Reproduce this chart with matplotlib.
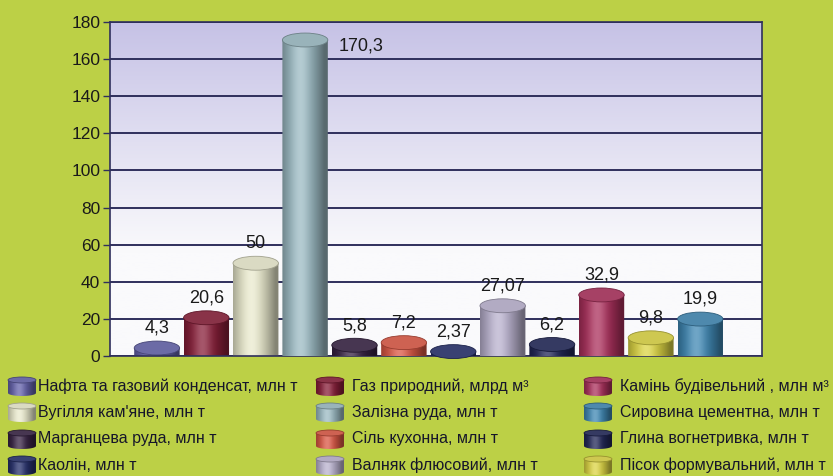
import numpy as np
import matplotlib.pyplot as plt
from matplotlib.patches import Ellipse, PathPatch
from matplotlib.path import Path
from matplotlib.colors import to_rgb

# Видобуток корисних копалин
names = [
    "Нафта та газовий конденсат, млн т",
    "Газ природний, млрд м³",
    "Вугілля кам'яне, млн т",
    "Залізна руда, млн т",
    "Марганцева руда, млн т",
    "Сіль кухонна, млн т",
    "Каолін, млн т",
    "Валняк флюсовий, млн т",
    "Глина вогнетривка, млн т",
    "Камінь будівельний , млн м³",
    "Пісок формувальний, млн т",
    "Сировина цементна, млн т",
]
values = [4.3, 20.6, 50, 170.3, 5.8, 7.2, 2.37, 27.07, 6.2, 32.9, 9.8, 19.9]
value_labels = ["4,3", "20,6", "50", "170,3", "5,8", "7,2", "2,37",
                "27,07", "6,2", "32,9", "9,8", "19,9"]
colors = ["#5c5a9c", "#7c1c34", "#d6d6bc", "#8eaab2", "#33203e", "#c8503f",
          "#232c62", "#a9a2bc", "#1f2450", "#9c2c54", "#c9c23e", "#3a7ca4"]
yticks = list(range(0, 181, 20))
# legend layout: item indices per column
legend_columns = [[0, 2, 4, 6], [1, 3, 5, 7], [9, 11, 8, 10]]

plt.rcParams['font.family'] = ['Liberation Sans', 'DejaVu Sans']

BG = "#bcd046"
LINE = "#2f2f5c"


def shade_strip(color, n=80):
    c = np.array(to_rgb(color))
    t = np.linspace(0, 1, n)
    k = np.clip(np.cos((t - 0.4) * np.pi * 0.95), 0, 1)
    rgb = c[None, :] * (0.62 + 0.45 * k[:, None]) + (1 - c[None, :]) * 0.25 * k[:, None] ** 6
    return np.clip(rgb, 0, 1)[None, :, :]


def cylinder(ax, xc, y0, y1, w, eh, color, z):
    a = np.linspace(np.pi, 2 * np.pi, 40)
    base = np.column_stack([xc + w / 2 * np.cos(a), y0 + eh / 2 * np.sin(a)])
    verts = np.vstack([[xc - w / 2, y1], base, [xc + w / 2, y1], [xc - w / 2, y1]])
    body = PathPatch(Path(verts), transform=ax.transData, facecolor="none", edgecolor="none")
    im = ax.imshow(shade_strip(color), extent=[xc - w / 2, xc + w / 2, y0 - eh / 2, y1],
                   aspect="auto", interpolation="bicubic", zorder=z)
    im.set_clip_path(body)
    im.set_clip_box(None)
    c = np.array(to_rgb(color))
    top = Ellipse((xc, y1), w, eh, facecolor=np.clip(c * 0.9 + 0.1, 0, 1),
                  edgecolor=c * 0.75, lw=0.6, zorder=z + 0.1, clip_on=False)
    ax.add_patch(top)


fig = plt.figure(figsize=(8.33, 4.76), dpi=100, facecolor=BG)
ax = fig.add_axes([110 / 833, 120 / 476, 652 / 833, 334 / 476])
ax.set_facecolor("none")

# plot area gradient: lavender at top, white at bottom
g = np.linspace(0, 1, 200)[:, None]
top_c = np.array([198, 194, 230]) / 255
bot_c = np.array([250, 250, 252]) / 255
mix = np.clip(g * 1.45, 0, 1)
grad = (top_c * (1 - mix) + bot_c * mix)[:, None, :]
ax.imshow(grad, extent=[0, 1, 0, 1], transform=ax.transAxes, aspect="auto", zorder=0)

bar_w = 0.92
ell_h = 7.5
for i, v in enumerate(values):
    cylinder(ax, i, 0, v, bar_w, ell_h, colors[i], 2 + i * 0.2)
    if v == max(values):
        ax.annotate(value_labels[i], (i + bar_w / 2, v), xytext=(8, -4),
                    textcoords="offset points", ha="left", va="center",
                    fontsize=13, color="#1a1a1a", zorder=10)
    else:
        ax.annotate(value_labels[i], (i, v), xytext=(0, 8),
                    textcoords="offset points", ha="center", va="bottom",
                    fontsize=13, color="#1a1a1a", zorder=10)

ax.set_xlim(-0.95, 12.25)
ax.set_ylim(0, 180)
ax.set_yticks(yticks)
ax.set_xticks([])
ax.yaxis.grid(True, color=LINE, lw=1.4)
ax.set_axisbelow(True)
ax.tick_params(axis="y", length=5, width=1, color=LINE, labelsize=12.5, pad=2,
               labelcolor="#1a1a1a")
for s in ax.spines.values():
    s.set_color(LINE)
    s.set_linewidth(1.2)

# legend drawn in figure pixel coordinates
lax = fig.add_axes([0, 0, 1, 1], zorder=5)
lax.set_facecolor("none")
icon_x = [22, 330, 598]
text_x = [38, 352, 620]
row_y = [386, 412, 439, 465]
for col, items in enumerate(legend_columns):
    for row, idx in enumerate(items):
        y = 476 - row_y[row]
        cylinder(lax, icon_x[col], y - 7, y + 6, 28, 6, colors[idx], 2)
        lax.text(text_x[col], y, names[idx], va="center", ha="left",
                 fontsize=11.5, color="#16162a")
lax.set_xlim(0, 833)
lax.set_ylim(0, 476)
lax.axis("off")

fig.savefig("out.png", dpi=100, facecolor=BG)
